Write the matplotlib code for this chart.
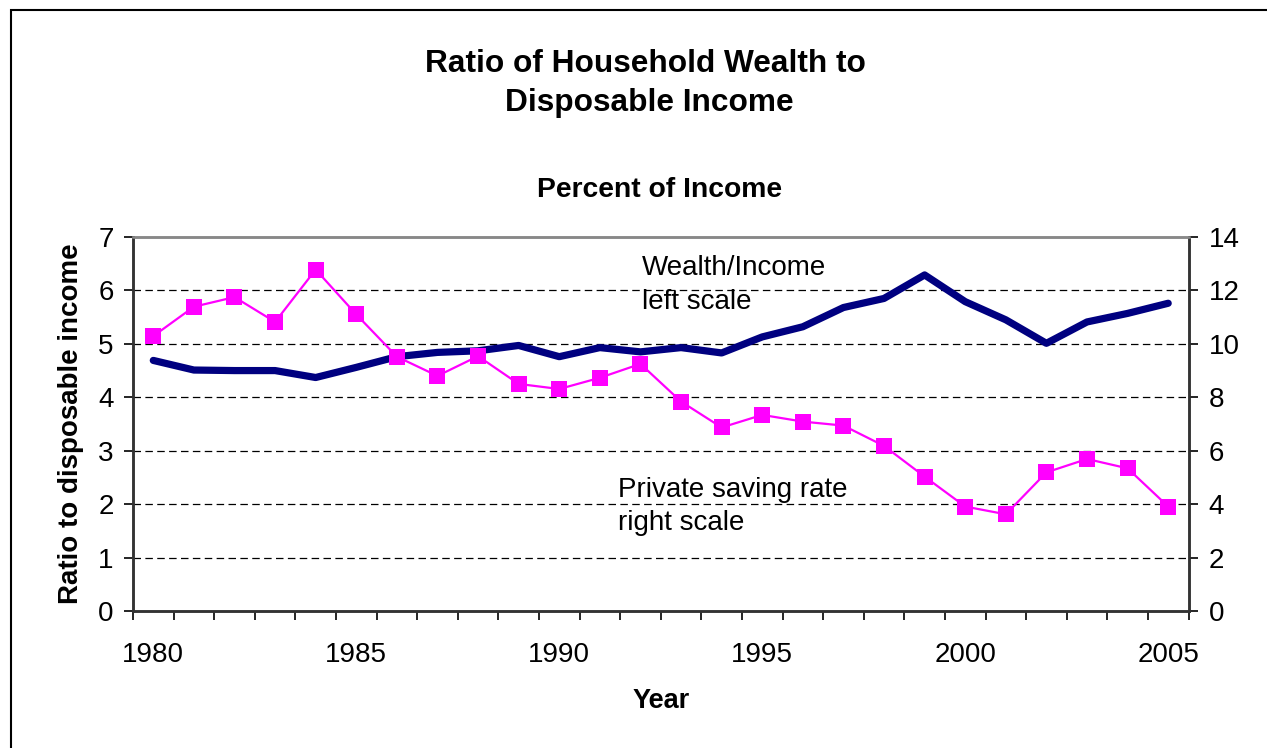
import numpy as np
import matplotlib.pyplot as plt
from matplotlib.patches import Rectangle

plt.rcParams['font.family'] = ['Liberation Sans', 'DejaVu Sans']

# Datos
years = list(range(1980, 2006))
wealth_ratio = [4.69, 4.51, 4.50, 4.50, 4.37, 4.56, 4.76, 4.84, 4.87, 4.97,
                4.76, 4.93, 4.85, 4.93, 4.83, 5.13, 5.32, 5.68, 5.85, 6.29,
                5.79, 5.45, 5.01, 5.41, 5.57, 5.76]
saving_rate = [10.29, 11.39, 11.75, 10.82, 12.78, 11.10, 9.52, 8.80, 9.54, 8.50,
               8.31, 8.73, 9.25, 7.84, 6.87, 7.34, 7.09, 6.94, 6.18, 5.03,
               3.91, 3.62, 5.19, 5.69, 5.34, 3.91]
left_ticks = [0, 1, 2, 3, 4, 5, 6, 7]
right_ticks = [0, 2, 4, 6, 8, 10, 12, 14]
year_labels = [1980, 1985, 1990, 1995, 2000, 2005]

W, H = 1267, 748
fig = plt.figure(figsize=(W / 100, H / 100), dpi=100)
ax = fig.add_axes([133 / W, 1 - 611 / H, (1188.5 - 133) / W, (611 - 237) / H])
ax2 = ax.twinx()

# marco exterior
fig.patches.append(Rectangle((11 / W, -0.1), 1.2, 1 - 10 / H + 0.1,
                             transform=fig.transFigure, fill=False,
                             edgecolor='black', lw=1.5))

ax.plot(years, wealth_ratio, color='#000080', lw=5.2, solid_capstyle='round',
        solid_joinstyle='round')
ax2.plot(years, saving_rate, color='#FF00FF', lw=1.6, marker='s',
         markersize=12, markeredgewidth=0)

ax.set_xlim(1979.5, 2005.5)
ax.set_ylim(0, 7)
ax2.set_ylim(0, 14)
ax.set_yticks(left_ticks)
ax2.set_yticks(right_ticks)
for y in left_ticks[1:-1]:
    ax.axhline(y, color='black', lw=0.9, ls=(0, (6, 3.5)), zorder=0)

ax.set_xticks(year_labels)
ax.set_xticks(np.arange(1979.5, 2006, 1), minor=True)
ax.tick_params(axis='x', which='major', length=0, pad=22, labelsize=20)
ax.tick_params(axis='x', which='minor', length=6.5, width=1.2, direction='out')
ax.tick_params(axis='y', length=6.5, width=1.2, labelsize=20, pad=7.5)
ax2.tick_params(axis='y', length=6.5, width=1.2, labelsize=20, pad=8)

for a in (ax, ax2):
    for s in ['left', 'bottom', 'right']:
        a.spines[s].set_color('#333333')
        a.spines[s].set_linewidth(1.8)
    a.spines['top'].set_color('#888888')
    a.spines['top'].set_linewidth(1.8)

ax.set_ylabel('Ratio to disposable income', fontsize=20, fontweight='bold',
              labelpad=10)
ax.set_xlabel('Year', fontsize=19.5, fontweight='bold', labelpad=15)

fig.text(645 / W, 1 - 64 / H, 'Ratio of Household Wealth to',
         ha='center', va='center', fontsize=22.8, fontweight='bold')
fig.text(649 / W, 1 - 103 / H, 'Disposable Income',
         ha='center', va='center', fontsize=22.8, fontweight='bold')
fig.text(660 / W, 1 - 190 / H, 'Percent of Income',
         ha='center', va='center', fontsize=20.3, fontweight='bold')

fig.text(642 / W, 1 - 268 / H, 'Wealth/Income', ha='left', va='center',
         fontsize=20)
fig.text(642 / W, 1 - 302 / H, 'left scale', ha='left', va='center',
         fontsize=20)
fig.text(618 / W, 1 - 490 / H, 'Private saving rate', ha='left', va='center',
         fontsize=20)
fig.text(618 / W, 1 - 523 / H, 'right scale', ha='left', va='center',
         fontsize=20)

fig.savefig('out.png', dpi=100)
